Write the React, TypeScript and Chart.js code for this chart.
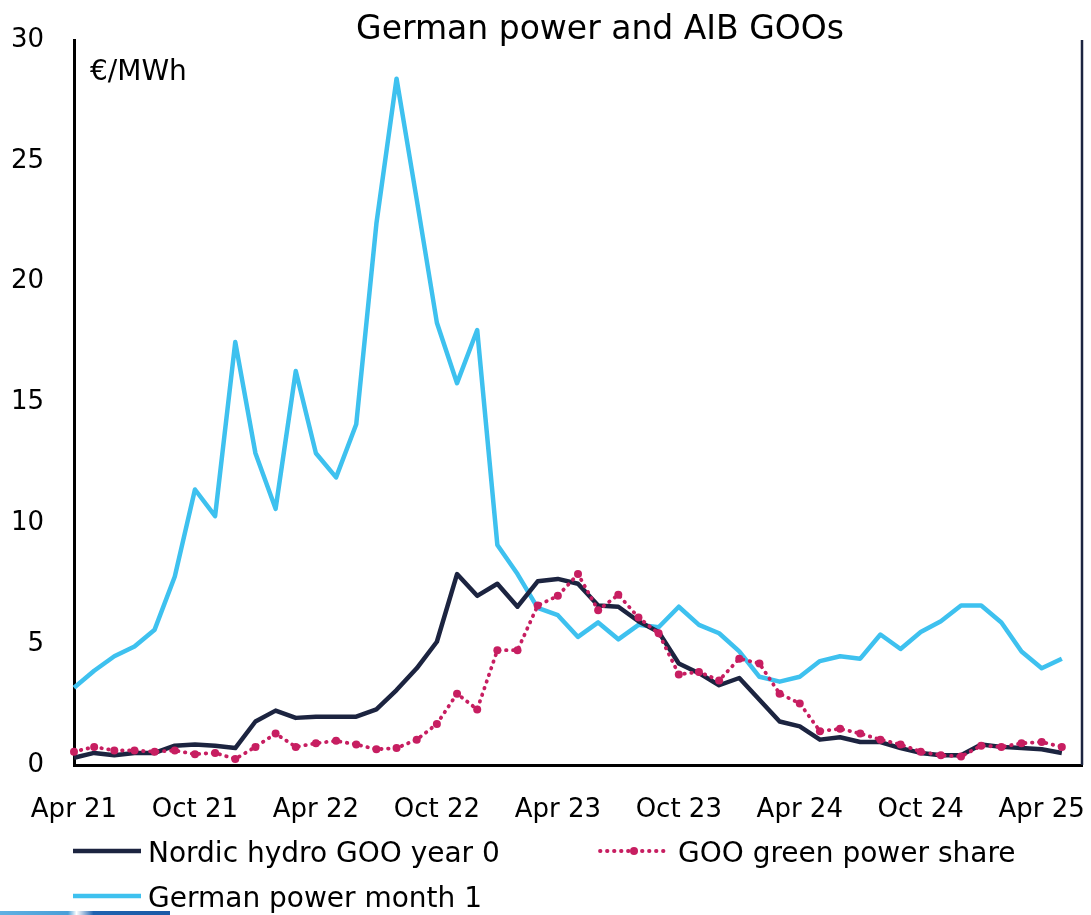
import React, { useEffect, useRef } from "react";
import { Chart, registerables } from "chart.js";

Chart.register(...registerables);

const months = [
  "Apr 21", "May 21", "Jun 21", "Jul 21", "Aug 21", "Sep 21", "Oct 21", "Nov 21", "Dec 21",
  "Jan 22", "Feb 22", "Mar 22", "Apr 22", "May 22", "Jun 22", "Jul 22", "Aug 22", "Sep 22",
  "Oct 22", "Nov 22", "Dec 22", "Jan 23", "Feb 23", "Mar 23", "Apr 23", "May 23", "Jun 23",
  "Jul 23", "Aug 23", "Sep 23", "Oct 23", "Nov 23", "Dec 23", "Jan 24", "Feb 24", "Mar 24",
  "Apr 24", "May 24", "Jun 24", "Jul 24", "Aug 24", "Sep 24", "Oct 24", "Nov 24", "Dec 24",
  "Jan 25", "Feb 25", "Mar 25", "Apr 25", "May 25", "Jun 25",
];

const nordicHydro = [
  0.3, 0.5, 0.4, 0.5, 0.5, 0.8, 0.85, 0.8, 0.7, 1.8, 2.25, 1.95, 2.0, 2.0, 2.0, 2.3, 3.1,
  4.0, 5.1, 7.9, 7.0, 7.5, 6.55, 7.6, 7.7, 7.5, 6.6, 6.55, 5.95, 5.5, 4.2, 3.8, 3.3, 3.6,
  2.7, 1.8, 1.6, 1.05, 1.15, 0.95, 0.95, 0.7, 0.5, 0.4, 0.4, 0.85, 0.75, 0.7, 0.65, 0.5,
];

const greenShare = [
  0.55, 0.75, 0.6, 0.6, 0.55, 0.6, 0.45, 0.5, 0.25, 0.75, 1.3, 0.75, 0.9, 1.0, 0.85, 0.65,
  0.7, 1.05, 1.7, 2.95, 2.3, 4.75, 4.75, 6.6, 7.0, 7.9, 6.4, 7.05, 6.1, 5.45, 3.75, 3.85,
  3.5, 4.4, 4.2, 2.95, 2.55, 1.4, 1.5, 1.3, 1.05, 0.85, 0.55, 0.4, 0.35, 0.8, 0.75, 0.9,
  0.95, 0.75,
];

const germanPower = [
  3.2, 3.9, 4.5, 4.9, 5.6, 7.8, 11.4, 10.3, 17.5, 12.9, 10.6, 16.3, 12.9, 11.9, 14.1, 22.4,
  28.4, 23.4, 18.3, 15.8, 18.0, 9.1, 7.9, 6.5, 6.2, 5.3, 5.9, 5.2, 5.8, 5.7, 6.55, 5.8,
  5.45, 4.7, 3.65, 3.45, 3.65, 4.3, 4.5, 4.4, 5.4, 4.8, 5.5, 5.95, 6.6, 6.6, 5.9, 4.7,
  4.0, 4.4,
];

const yTicks = [0, 5, 10, 15, 20, 25, 30];
const labelEvery = 6;

const title = "German power and AIB GOOs";
const unitLabel = "€/MWh";

const NAVY = "#1c2440";
const BLUE = "#3ec1ef";
const PINK = "#c71e61";
const FONT = "'DejaVu Sans', sans-serif";

export default function App() {
  const canvasRef = useRef<HTMLCanvasElement | null>(null);

  useEffect(() => {
    const canvas = canvasRef.current;
    if (!canvas) return;

    const overlay = {
      id: "overlay",
      afterDraw(chart: any) {
        const ctx = chart.ctx;
        const area = chart.chartArea;
        ctx.save();
        // right frame line
        ctx.strokeStyle = NAVY;
        ctx.lineWidth = 2.5;
        ctx.beginPath();
        ctx.moveTo(area.right, area.top);
        ctx.lineTo(area.right, area.bottom);
        ctx.stroke();

        // title
        ctx.fillStyle = "#000";
        ctx.font = `33px ${FONT}`;
        ctx.textAlign = "center";
        ctx.textBaseline = "alphabetic";
        ctx.fillText(title, 600, 39);

        // unit label
        ctx.font = `28px ${FONT}`;
        ctx.textAlign = "left";
        ctx.fillText(unitLabel, 90, 80);

        // legend
        const ds = chart.data.datasets;
        const items = [
          { d: ds[0], x: 73, y: 851 },
          { d: ds[1], x: 600, y: 851 },
          { d: ds[2], x: 73, y: 896 },
        ];
        ctx.font = `28px ${FONT}`;
        for (const it of items) {
          const d: any = it.d;
          ctx.strokeStyle = d.borderColor;
          ctx.lineWidth = d.borderWidth;
          ctx.lineCap = d.borderCapStyle || "butt";
          ctx.setLineDash(d.borderDash || []);
          ctx.beginPath();
          ctx.moveTo(it.x, it.y);
          ctx.lineTo(it.x + 68, it.y);
          ctx.stroke();
          ctx.setLineDash([]);
          if (d.pointRadius > 0) {
            ctx.fillStyle = d.pointBackgroundColor;
            ctx.beginPath();
            ctx.arc(it.x + 34, it.y, d.pointRadius, 0, Math.PI * 2);
            ctx.fill();
          }
          ctx.fillStyle = "#000";
          ctx.fillText(d.label, it.x + (d.pointRadius > 0 ? 78 : 75), it.y + 11);
        }
        ctx.restore();
      },
    };

    const chart = new Chart(canvas, {
      type: "line",
      data: {
        labels: months,
        datasets: [
          {
            label: "Nordic hydro GOO year 0",
            data: nordicHydro,
            borderColor: NAVY,
            backgroundColor: NAVY,
            borderWidth: 4.5,
            pointRadius: 0,
            tension: 0,
            borderJoinStyle: "round",
            order: 2,
          },
          {
            label: "GOO green power share",
            data: greenShare,
            borderColor: PINK,
            backgroundColor: PINK,
            borderWidth: 3.8,
            borderDash: [0.5, 6.5],
            borderCapStyle: "round",
            pointRadius: 4,
            pointBackgroundColor: PINK,
            pointBorderWidth: 0,
            tension: 0,
            order: 1,
          },
          {
            label: "German power month 1",
            data: germanPower,
            borderColor: BLUE,
            backgroundColor: BLUE,
            borderWidth: 4.5,
            pointRadius: 0,
            tension: 0,
            borderJoinStyle: "round",
            order: 3,
          },
        ],
      },
      options: {
        responsive: false,
        animation: false,
        devicePixelRatio: 1,
        layout: { padding: { top: 40, right: 9, bottom: 0, left: 0 } },
        plugins: {
          legend: { display: false },
          title: { display: false },
          tooltip: { enabled: false },
        },
        scales: {
          x: {
            type: "category",
            offset: false,
            grid: { display: false, drawTicks: false },
            border: { display: true, color: "#000", width: 3 },
            ticks: {
              autoSkip: false,
              maxRotation: 0,
              padding: 30,
              color: "#000",
              font: { family: FONT, size: 26 },
              callback: (_v: any, i: number) => (i % labelEvery === 0 ? months[i] : ""),
            },
            afterFit: (s: any) => {
              s.height = 150;
              s.paddingLeft = 0;
              s.paddingRight = 0;
            },
          },
          y: {
            min: yTicks[0],
            max: yTicks[yTicks.length - 1],
            grid: { display: false, drawTicks: false },
            border: { display: true, color: "#000", width: 3 },
            afterBuildTicks: (s: any) => {
              s.ticks = yTicks.map((v) => ({ value: v }));
            },
            ticks: {
              padding: 30,
              color: "#000",
              font: { family: FONT, size: 26 },
            },
            afterFit: (s: any) => {
              s.width = 74;
              s.paddingTop = 0;
              s.paddingBottom = 0;
            },
          },
        },
      },
      plugins: [overlay],
    });

    return () => chart.destroy();
  }, []);

  return (
    <div style={{ position: "absolute", left: 0, top: 0, width: 1091, height: 915, background: "#fff" }}>
      <canvas ref={canvasRef} width={1091} height={915} style={{ display: "block" }} />
      <div
        style={{
          position: "absolute",
          left: 0,
          top: 911,
          width: 170,
          height: 4,
          background: "linear-gradient(90deg, #5fb0e2 0%, #4a9fd8 40%, #ffffff 45%, #1f63b0 55%, #1a5aa6 100%)",
        }}
      />
    </div>
  );
}
